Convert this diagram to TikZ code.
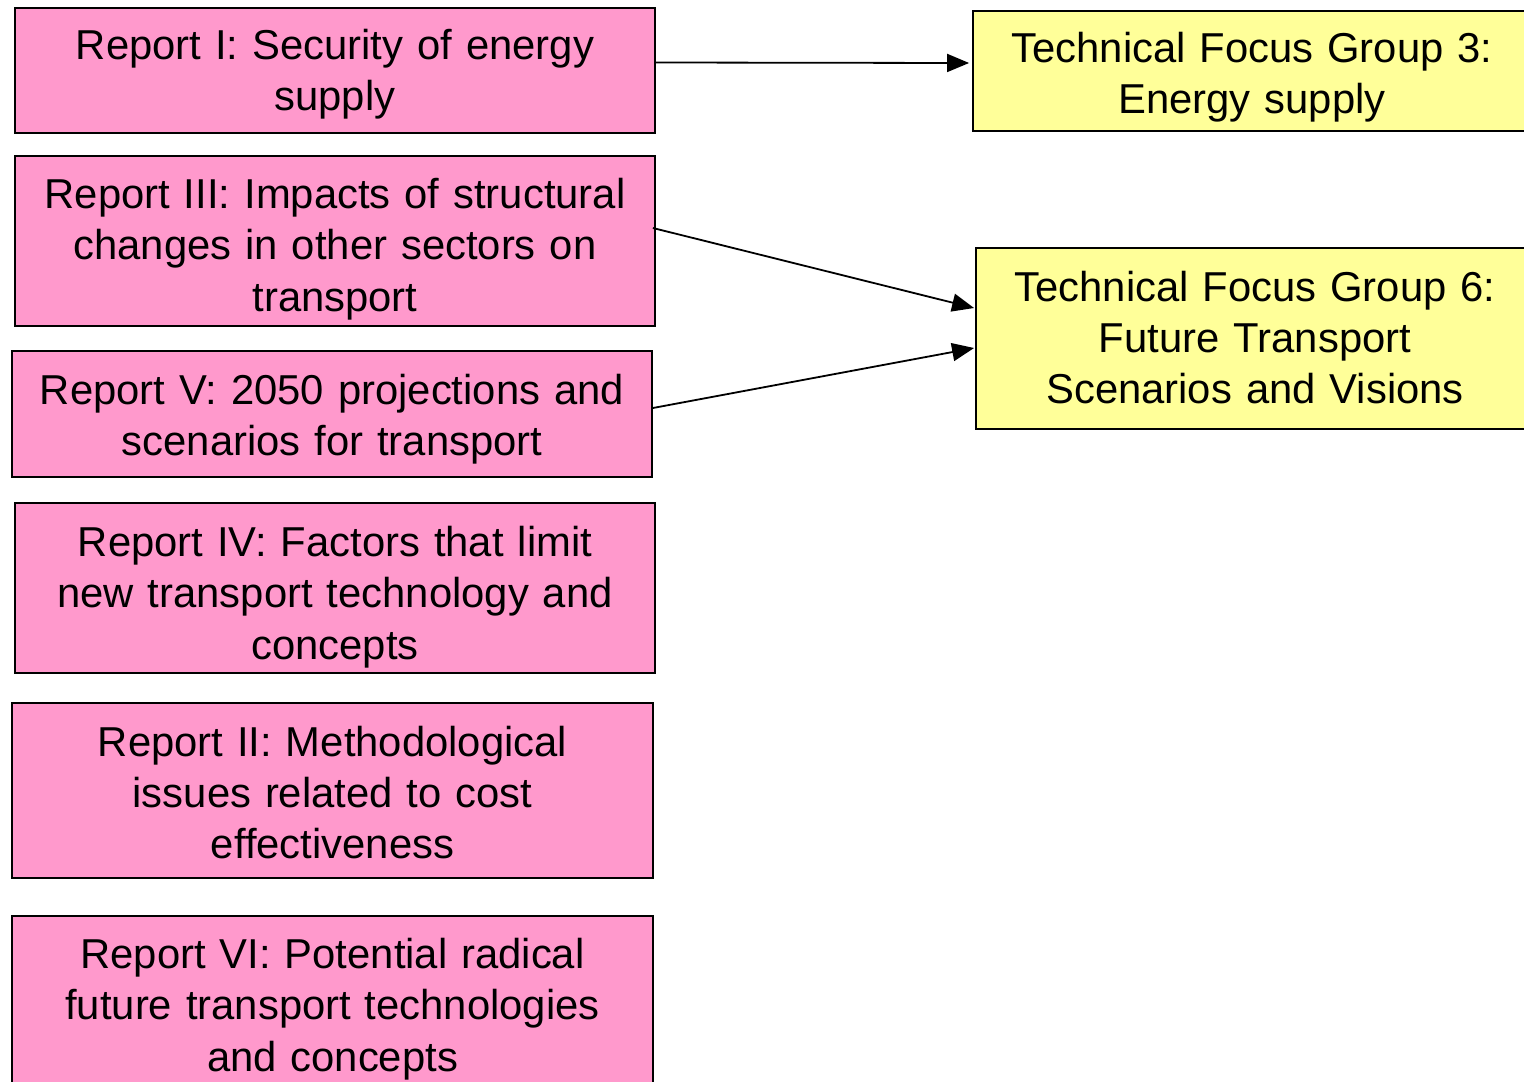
\documentclass[tikz,border=0pt]{standalone}
\usepackage{fontspec}
\setmainfont{Liberation Sans}
\usetikzlibrary{arrows.meta}
\definecolor{rpink}{HTML}{FF99CC}
\definecolor{ryellow}{HTML}{FFFF99}
\begin{document}
\begin{tikzpicture}[x=1pt,y=-1pt,
  box/.style={draw=black,line width=1.8pt,inner sep=0pt},
  report/.style={box,fill=rpink},
  tfg/.style={box,fill=ryellow},
  txt/.style={inner sep=0pt,align=center,text width=640pt,
    font=\fontsize{41.8}{51.3}\selectfont},
  conn/.style={line width=1.8pt,-{Triangle[length=22pt,width=18pt]}}]
\useasboundingbox (0,0) rectangle (1524,1082);
\clip (0,0) rectangle (1524,1082);
\node[report,minimum width=640pt,minimum height=125pt] (r1) at (335,70.5) {};
\node[txt] (r1t) at ([yshift=-4pt]r1.center) {Report I: Security of energy\\supply};
\node[report,minimum width=640pt,minimum height=170pt] (r3) at (335,241) {};
\node[txt] (r3t) at ([yshift=-8pt]r3.center) {Report III: Impacts of structural\\changes in other sectors on\\transport};
\node[report,minimum width=640pt,minimum height=126pt] (r5) at (332,414) {};
\node[txt] (r5t) at ([yshift=-5pt]r5.center) {Report V: 2050 projections and\\scenarios for transport};
\node[report,minimum width=640pt,minimum height=170pt] (r4) at (335,588) {};
\node[txt] (r4t) at ([yshift=-9pt]r4.center) {Report IV: Factors that limit\\new transport technology and\\concepts};
\node[report,minimum width=641pt,minimum height=175pt] (r2) at (332.5,790.5) {};
\node[txt] (r2t) at ([yshift=-2pt]r2.center) {Report II: Methodological\\issues related to cost\\effectiveness};
\node[report,minimum width=641pt,minimum height=180pt] (r6) at (332.5,1006) {};
\node[txt] (r6t) at ([yshift=-3pt]r6.center) {Report VI: Potential radical\\future transport technologies\\and concepts};
\node[tfg,minimum width=558pt,minimum height=120pt] (t3) at (1252,71) {};
\node[txt] (t3t) at ([yshift=-6pt]t3.center) {Technical Focus Group 3:\\Energy supply};
\node[tfg,minimum width=558pt,minimum height=181pt] (t6) at (1255,338.5) {};
\node[txt] (t6t) at ([yshift=1pt]t6.center) {Technical Focus Group 6:\\Future Transport\\Scenarios and Visions};
\draw[conn] ([yshift=8pt]r1.east) -- ([yshift=8pt,xshift=-3pt]t3.west);
\draw[conn] ([yshift=13pt,xshift=-3pt]r3.east) -- ([yshift=30.5pt,xshift=-1pt]t6.west);
\draw[conn] ([yshift=6pt]r5.east) -- ([yshift=-9.5pt,xshift=-1pt]t6.west);
\end{tikzpicture}
\end{document}
